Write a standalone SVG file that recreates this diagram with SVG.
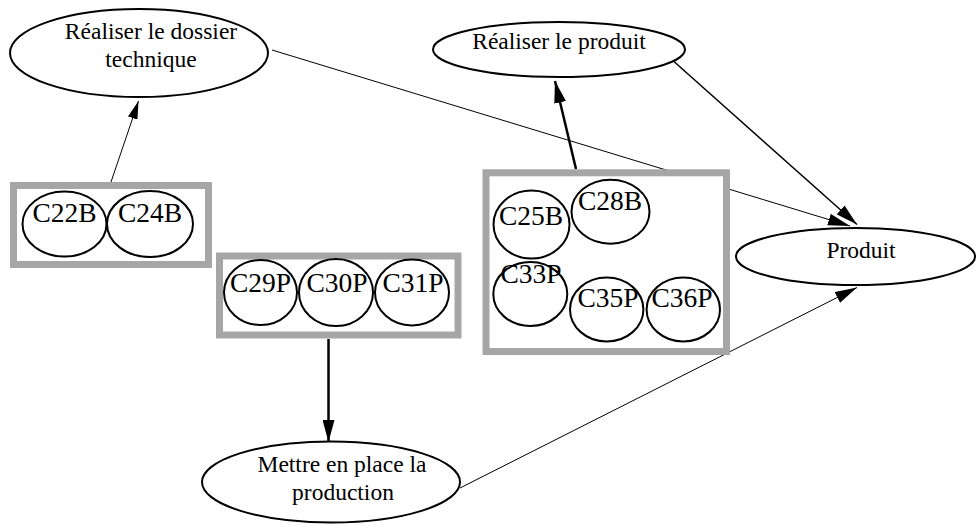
<svg xmlns="http://www.w3.org/2000/svg" width="980" height="526" viewBox="0 0 980 526">
<style>
.bg{fill:#fff}
.ell{fill:#fff;stroke:#000;stroke-width:2}
.box{fill:#fff;stroke:#a6a6a6;stroke-width:7}
.lbl{font-family:"Liberation Serif","Times New Roman",serif;font-size:23.5px;fill:#000;text-anchor:middle}
.clbl{font-family:"Liberation Serif","Times New Roman",serif;font-size:27.5px;fill:#000;text-anchor:middle}
.ln{fill:none;stroke:#000}
</style>
<defs>
<marker id="ah" viewBox="0 0 22 12" refX="22" refY="6" markerWidth="22" markerHeight="12" markerUnits="userSpaceOnUse" orient="auto">
<path d="M0,0 L22,6 L0,12 z" fill="#000"/>
</marker>
<marker id="ahs" viewBox="0 0 18 10" refX="18" refY="5" markerWidth="18" markerHeight="10" markerUnits="userSpaceOnUse" orient="auto">
<path d="M0,0 L18,5 L0,10 z" fill="#000"/>
</marker>
</defs>
<rect class="bg" x="0" y="0" width="980" height="526"/>

<g id="connectors">
<line class="ln" stroke-width="1" x1="272" y1="50" x2="850" y2="226" marker-end="url(#ah)"/>
<line class="ln" stroke-width="1.5" x1="670" y1="58" x2="857" y2="224.5" marker-end="url(#ah)"/>
<line class="ln" stroke-width="1" x1="460" y1="488" x2="857" y2="287.5" marker-end="url(#ah)"/>
<line class="ln" stroke-width="1" x1="111" y1="182" x2="138.5" y2="101" marker-end="url(#ahs)"/>
<line class="ln" stroke-width="2.5" x1="576" y1="169" x2="555" y2="81" marker-end="url(#ah)"/>
<line class="ln" stroke-width="2.5" x1="328.5" y1="339" x2="328.5" y2="442" marker-end="url(#ah)"/>
</g>

<g id="n-dossier">
<ellipse class="ell" cx="139" cy="53" rx="129" ry="44"/>
<text class="lbl" x="151" y="38.5">Réaliser le dossier</text>
<text class="lbl" x="151" y="66.5">technique</text>
</g>

<g id="n-realiser-produit">
<ellipse class="ell" cx="559" cy="49.5" rx="126" ry="27.5"/>
<text class="lbl" x="559" y="48.5">Réaliser le produit</text>
</g>

<g id="n-produit">
<ellipse class="ell" cx="855.5" cy="256.5" rx="119.5" ry="28.5"/>
<text class="lbl" x="861" y="257.5">Produit</text>
</g>

<g id="n-mettre">
<ellipse class="ell" cx="331" cy="482" rx="129" ry="40.5"/>
<text class="lbl" x="342" y="472">Mettre en place la</text>
<text class="lbl" x="343" y="500">production</text>
</g>

<g id="g-box1">
<rect class="box" x="13.5" y="185.5" width="195" height="79"/>
<g id="n-c22b"><ellipse class="ell" cx="64.5" cy="224" rx="42" ry="32.5"/><text class="clbl" x="64.5" y="221.5">C22B</text></g>
<g id="n-c24b"><ellipse class="ell" cx="150" cy="224" rx="43" ry="33"/><text class="clbl" x="150" y="221.5">C24B</text></g>
</g>

<g id="g-box2">
<rect class="box" x="219.5" y="256" width="238.5" height="79"/>
<g id="n-c29p"><ellipse class="ell" cx="260.5" cy="292.5" rx="36.5" ry="32.5"/><text class="clbl" x="260.5" y="291.7">C29P</text></g>
<g id="n-c30p"><ellipse class="ell" cx="336" cy="292.5" rx="37" ry="33.5"/><text class="clbl" x="337" y="291.7">C30P</text></g>
<g id="n-c31p"><ellipse class="ell" cx="412" cy="292.5" rx="37" ry="33"/><text class="clbl" x="413" y="291.7">C31P</text></g>
</g>

<g id="g-box3">
<rect class="box" x="486" y="172.8" width="240.5" height="178.7"/>
<g id="n-c25b"><ellipse class="ell" cx="531.5" cy="224.5" rx="38" ry="34"/><text class="clbl" x="531" y="225">C25B</text></g>
<g id="n-c28b"><ellipse class="ell" cx="610.5" cy="211.7" rx="39" ry="32"/><text class="clbl" x="610" y="210">C28B</text></g>
<g id="n-c33p"><ellipse class="ell" cx="530.3" cy="294" rx="37" ry="32"/><text class="clbl" x="531" y="283.3">C33P</text></g>
<g id="n-c35p"><ellipse class="ell" cx="606.7" cy="309.5" rx="36.7" ry="32"/><text class="clbl" x="608" y="306.7">C35P</text></g>
<g id="n-c36p"><ellipse class="ell" cx="683.3" cy="309.5" rx="36.7" ry="32"/><text class="clbl" x="682" y="306.7">C36P</text></g>
</g>
</svg>
